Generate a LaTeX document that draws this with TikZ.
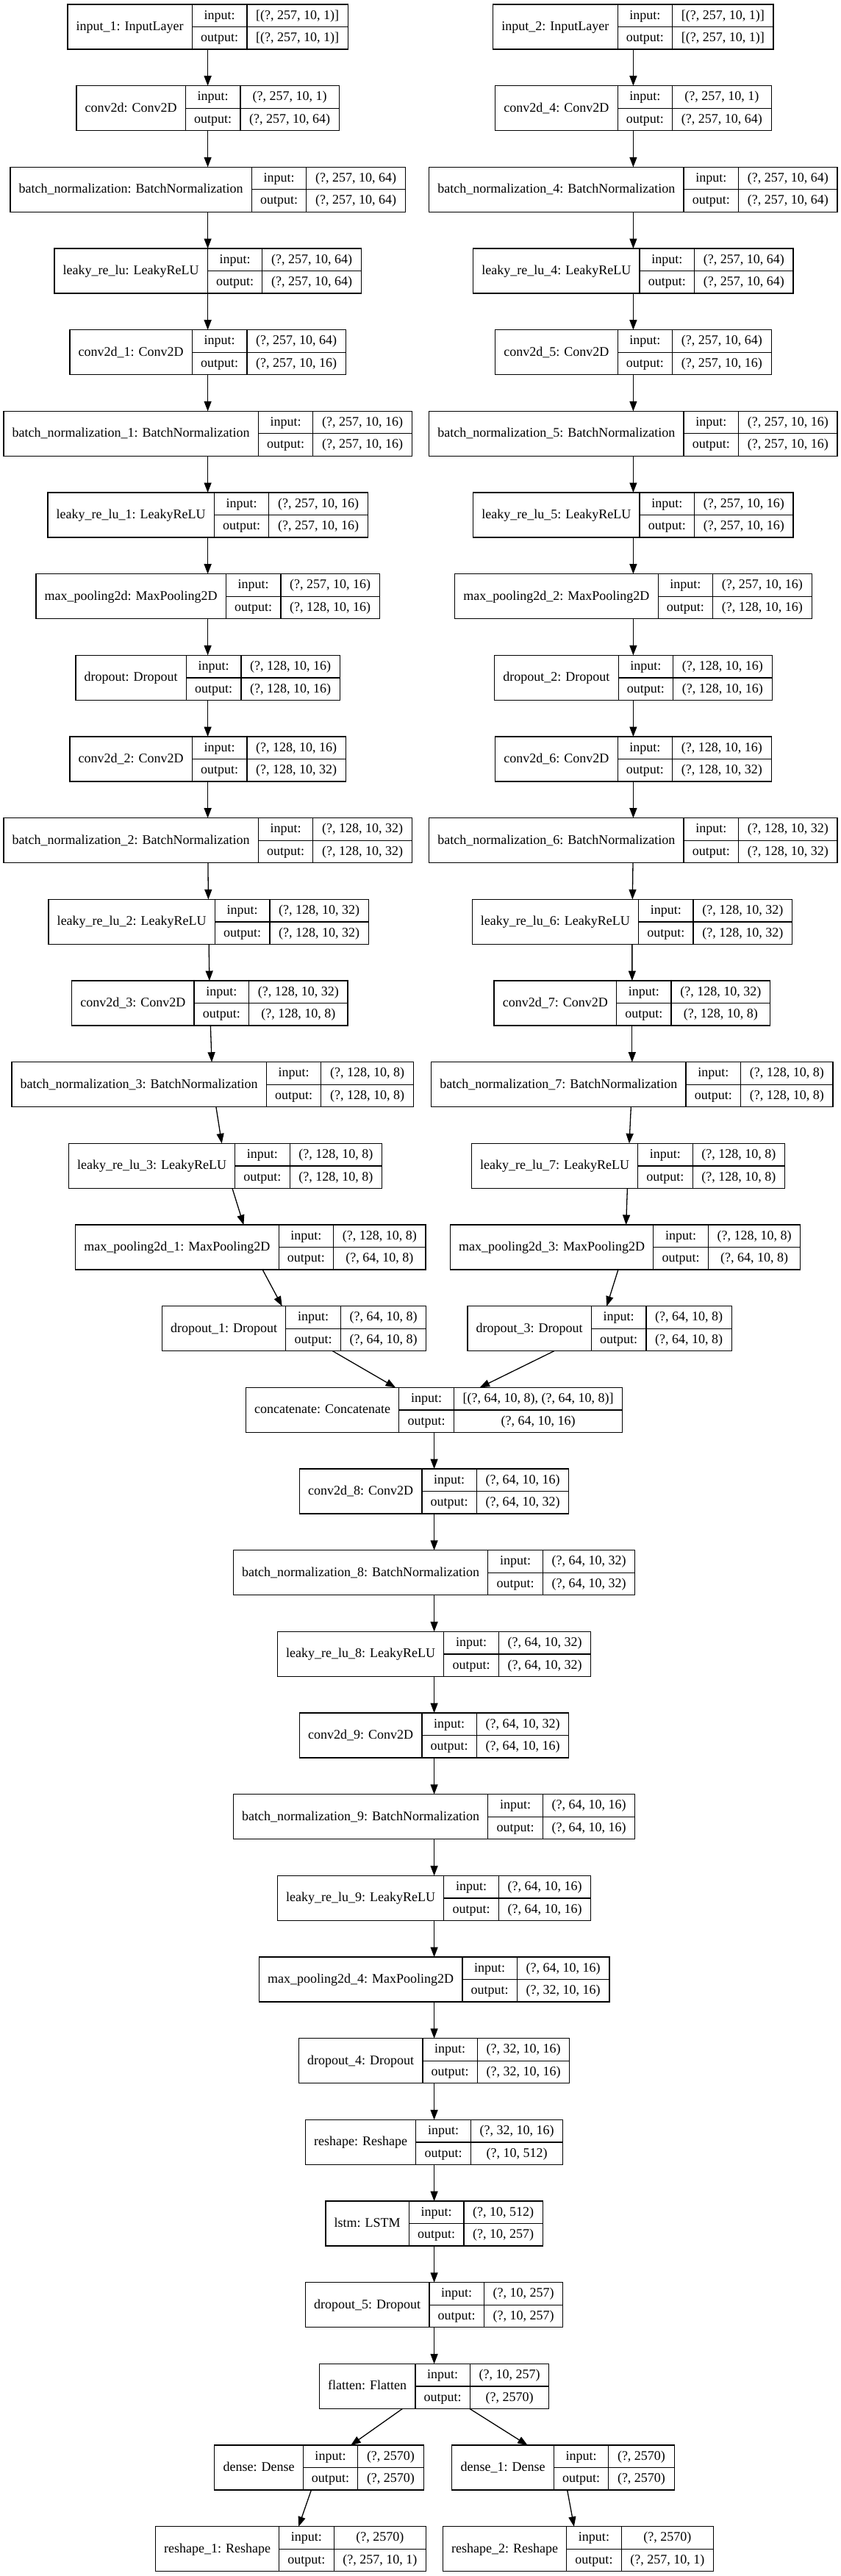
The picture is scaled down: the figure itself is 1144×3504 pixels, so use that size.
\documentclass[tikz,border=0pt]{standalone}
\usepackage{fontspec}
\setmainfont{Liberation Serif}
\usetikzlibrary{arrows.meta}
\newlength\rwA \newlength\rwB \newlength\rwC \newlength\rwD \newlength\rwT
\font\rfont="Liberation Serif" at 9pt
\def\rpad{11.75pt}
\def\vpad{12.25pt}
\newcommand\R[1]{36.5+110.67*#1}
\tikzset{
  recbox/.style={draw=black, line width=0.65pt, rectangle, inner sep=0pt, outer sep=0pt, minimum height=30.5pt},
  recline/.style={draw=black, line width=0.65pt},
  rtext/.style={inner sep=0pt, outer sep=0pt, font=\rfont, text height=6.9pt, text depth=2pt, anchor=center},
  edge/.style={draw=black, line width=0.65pt, -{Triangle[length=6.75pt,width=5pt]}}
}
\newcommand\rec[5]{%
  \settowidth\rwA{\rfont #3}\addtolength\rwA{\rpad}%
  \settowidth\rwB{\rfont output:}\addtolength\rwB{\rpad}%
  \settowidth\rwC{\rfont #4}\settowidth\rwD{\rfont #5}%
  \ifdim\rwD>\rwC \rwC=\rwD\fi
  \addtolength\rwC{\vpad}%
  \rwT=\rwA \advance\rwT by \rwB \advance\rwT by \rwC
  \node[recbox, minimum width=\rwT] (#1) at (#2) {};
  \draw[recline] ([xshift=\rwA]#1.north west) -- ([xshift=\rwA]#1.south west);
  \draw[recline] ([xshift=\rwA+\rwB]#1.north west) -- ([xshift=\rwA+\rwB]#1.south west);
  \draw[recline] ([xshift=\rwA]#1.west) -- (#1.east);
  \node[rtext] at ([xshift=0.5\rwA]#1.west) {#3};
  \node[rtext] at ([xshift=\rwA+0.5\rwB, yshift=-7.625pt]#1.north west) {input:};
  \node[rtext] at ([xshift=\rwA+0.5\rwB, yshift=7.625pt]#1.south west) {output:};
  \node[rtext] at ([xshift=-0.5\rwC, yshift=-7.625pt]#1.north east) {#4};
  \node[rtext] at ([xshift=-0.5\rwC, yshift=7.625pt]#1.south east) {#5};
}
\begin{document}
\begin{tikzpicture}[x=0.5pt, y=-0.5pt]
\useasboundingbox (0,0) rectangle (1144,3504);
% left column
\rec{L0}{282.6,{\R{0}}}{input\_1: InputLayer}{[(?, 257, 10, 1)]}{[(?, 257, 10, 1)]}
\rec{L1}{282.6,{\R{1}}}{conv2d: Conv2D}{(?, 257, 10, 1)}{(?, 257, 10, 64)}
\rec{L2}{282.6,{\R{2}}}{batch\_normalization: BatchNormalization}{(?, 257, 10, 64)}{(?, 257, 10, 64)}
\rec{L3}{282.6,{\R{3}}}{leaky\_re\_lu: LeakyReLU}{(?, 257, 10, 64)}{(?, 257, 10, 64)}
\rec{L4}{282.6,{\R{4}}}{conv2d\_1: Conv2D}{(?, 257, 10, 64)}{(?, 257, 10, 16)}
\rec{L5}{282.6,{\R{5}}}{batch\_normalization\_1: BatchNormalization}{(?, 257, 10, 16)}{(?, 257, 10, 16)}
\rec{L6}{282.6,{\R{6}}}{leaky\_re\_lu\_1: LeakyReLU}{(?, 257, 10, 16)}{(?, 257, 10, 16)}
\rec{L7}{282.6,{\R{7}}}{max\_pooling2d: MaxPooling2D}{(?, 257, 10, 16)}{(?, 128, 10, 16)}
\rec{L8}{282.6,{\R{8}}}{dropout: Dropout}{(?, 128, 10, 16)}{(?, 128, 10, 16)}
\rec{L9}{282.6,{\R{9}}}{conv2d\_2: Conv2D}{(?, 128, 10, 16)}{(?, 128, 10, 32)}
\rec{L10}{282.6,{\R{10}}}{batch\_normalization\_2: BatchNormalization}{(?, 128, 10, 32)}{(?, 128, 10, 32)}
\rec{L11}{283.7,{\R{11}}}{leaky\_re\_lu\_2: LeakyReLU}{(?, 128, 10, 32)}{(?, 128, 10, 32)}
\rec{L12}{285.3,{\R{12}}}{conv2d\_3: Conv2D}{(?, 128, 10, 32)}{(?, 128, 10, 8)}
\rec{L13}{289.1,{\R{13}}}{batch\_normalization\_3: BatchNormalization}{(?, 128, 10, 8)}{(?, 128, 10, 8)}
\rec{L14}{306.5,{\R{14}}}{leaky\_re\_lu\_3: LeakyReLU}{(?, 128, 10, 8)}{(?, 128, 10, 8)}
\rec{L15}{340.9,{\R{15}}}{max\_pooling2d\_1: MaxPooling2D}{(?, 128, 10, 8)}{(?, 64, 10, 8)}
\rec{L16}{400,{\R{16}}}{dropout\_1: Dropout}{(?, 64, 10, 8)}{(?, 64, 10, 8)}
% right column
\rec{R0}{861.4,{\R{0}}}{input\_2: InputLayer}{[(?, 257, 10, 1)]}{[(?, 257, 10, 1)]}
\rec{R1}{861.4,{\R{1}}}{conv2d\_4: Conv2D}{(?, 257, 10, 1)}{(?, 257, 10, 64)}
\rec{R2}{861.4,{\R{2}}}{batch\_normalization\_4: BatchNormalization}{(?, 257, 10, 64)}{(?, 257, 10, 64)}
\rec{R3}{861.4,{\R{3}}}{leaky\_re\_lu\_4: LeakyReLU}{(?, 257, 10, 64)}{(?, 257, 10, 64)}
\rec{R4}{861.4,{\R{4}}}{conv2d\_5: Conv2D}{(?, 257, 10, 64)}{(?, 257, 10, 16)}
\rec{R5}{861.4,{\R{5}}}{batch\_normalization\_5: BatchNormalization}{(?, 257, 10, 16)}{(?, 257, 10, 16)}
\rec{R6}{861.4,{\R{6}}}{leaky\_re\_lu\_5: LeakyReLU}{(?, 257, 10, 16)}{(?, 257, 10, 16)}
\rec{R7}{861.4,{\R{7}}}{max\_pooling2d\_2: MaxPooling2D}{(?, 257, 10, 16)}{(?, 128, 10, 16)}
\rec{R8}{861.4,{\R{8}}}{dropout\_2: Dropout}{(?, 128, 10, 16)}{(?, 128, 10, 16)}
\rec{R9}{861.4,{\R{9}}}{conv2d\_6: Conv2D}{(?, 128, 10, 16)}{(?, 128, 10, 32)}
\rec{R10}{861.4,{\R{10}}}{batch\_normalization\_6: BatchNormalization}{(?, 128, 10, 32)}{(?, 128, 10, 32)}
\rec{R11}{859.9,{\R{11}}}{leaky\_re\_lu\_6: LeakyReLU}{(?, 128, 10, 32)}{(?, 128, 10, 32)}
\rec{R12}{859.8,{\R{12}}}{conv2d\_7: Conv2D}{(?, 128, 10, 32)}{(?, 128, 10, 8)}
\rec{R13}{859.8,{\R{13}}}{batch\_normalization\_7: BatchNormalization}{(?, 128, 10, 8)}{(?, 128, 10, 8)}
\rec{R14}{854.5,{\R{14}}}{leaky\_re\_lu\_7: LeakyReLU}{(?, 128, 10, 8)}{(?, 128, 10, 8)}
\rec{R15}{850.5,{\R{15}}}{max\_pooling2d\_3: MaxPooling2D}{(?, 128, 10, 8)}{(?, 64, 10, 8)}
\rec{R16}{815.7,{\R{16}}}{dropout\_3: Dropout}{(?, 64, 10, 8)}{(?, 64, 10, 8)}
% middle column
\rec{M17}{590.6,{\R{17}}}{concatenate: Concatenate}{[(?, 64, 10, 8), (?, 64, 10, 8)]}{(?, 64, 10, 16)}
\rec{M18}{590.6,{\R{18}}}{conv2d\_8: Conv2D}{(?, 64, 10, 16)}{(?, 64, 10, 32)}
\rec{M19}{590.6,{\R{19}}}{batch\_normalization\_8: BatchNormalization}{(?, 64, 10, 32)}{(?, 64, 10, 32)}
\rec{M20}{590.6,{\R{20}}}{leaky\_re\_lu\_8: LeakyReLU}{(?, 64, 10, 32)}{(?, 64, 10, 32)}
\rec{M21}{590.6,{\R{21}}}{conv2d\_9: Conv2D}{(?, 64, 10, 32)}{(?, 64, 10, 16)}
\rec{M22}{590.6,{\R{22}}}{batch\_normalization\_9: BatchNormalization}{(?, 64, 10, 16)}{(?, 64, 10, 16)}
\rec{M23}{590.6,{\R{23}}}{leaky\_re\_lu\_9: LeakyReLU}{(?, 64, 10, 16)}{(?, 64, 10, 16)}
\rec{M24}{590.6,{\R{24}}}{max\_pooling2d\_4: MaxPooling2D}{(?, 64, 10, 16)}{(?, 32, 10, 16)}
\rec{M25}{590.6,{\R{25}}}{dropout\_4: Dropout}{(?, 32, 10, 16)}{(?, 32, 10, 16)}
\rec{M26}{590.6,{\R{26}}}{reshape: Reshape}{(?, 32, 10, 16)}{(?, 10, 512)}
\rec{M27}{590.6,{\R{27}}}{lstm: LSTM}{(?, 10, 512)}{(?, 10, 257)}
\rec{M28}{590.6,{\R{28}}}{dropout\_5: Dropout}{(?, 10, 257)}{(?, 10, 257)}
\rec{M29}{590.6,{\R{29}}}{flatten: Flatten}{(?, 10, 257)}{(?, 2570)}
\rec{D1}{434,{\R{30}}}{dense: Dense}{(?, 2570)}{(?, 2570)}
\rec{D2}{766,{\R{30}}}{dense\_1: Dense}{(?, 2570)}{(?, 2570)}
\rec{S1}{395.5,{\R{31}}}{reshape\_1: Reshape}{(?, 2570)}{(?, 257, 10, 1)}
\rec{S2}{786.5,{\R{31}}}{reshape\_2: Reshape}{(?, 2570)}{(?, 257, 10, 1)}
% edges
\foreach \i in {0,...,15}{
  \pgfmathtruncatemacro\j{\i+1}
  \draw[edge] (L\i) -- (L\j);
  \draw[edge] (R\i) -- (R\j);
}
\draw[edge] (L16) -- (M17);
\draw[edge] (R16) -- (M17);
\foreach \i in {17,...,28}{
  \pgfmathtruncatemacro\j{\i+1}
  \draw[edge] (M\i) -- (M\j);
}
\draw[edge] (M29) -- (D1);
\draw[edge] (M29) -- (D2);
\draw[edge] (D1) -- (S1);
\draw[edge] (D2) -- (S2);
\end{tikzpicture}
\end{document}
